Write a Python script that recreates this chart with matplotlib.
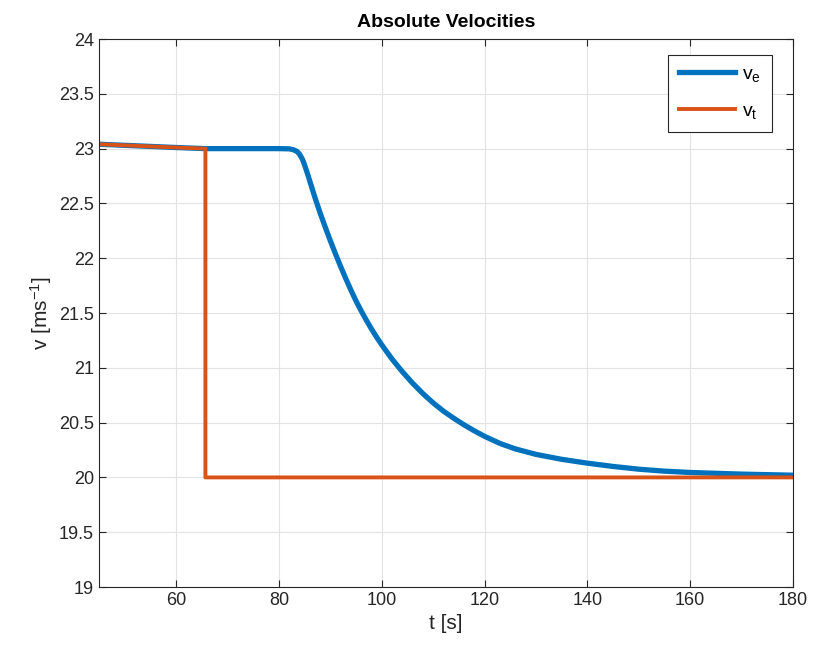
import matplotlib
matplotlib.use("Agg")
import matplotlib.pyplot as plt

plt.rcParams['font.family'] = ['Liberation Sans', 'DejaVu Sans']
plt.rcParams['mathtext.default'] = 'regular'

# values
t_e = [45, 50, 55, 60, 65.7, 70, 75, 80, 82, 82.8, 83.5, 84, 84.6, 85, 85.5,
       86, 86.5, 87, 88, 89, 90, 91, 92, 93, 94, 95, 96, 97, 98, 99, 100,
       102, 104, 106, 108, 110, 112, 114, 116, 118, 120, 123, 126, 130, 135,
       140, 145, 150, 155, 160, 170, 180]
v_e = [23.04, 23.03, 23.02, 23.01, 23.0, 23.0, 23.0, 23.0, 22.998, 22.99,
       22.975, 22.95, 22.90, 22.85, 22.78, 22.705, 22.63, 22.555, 22.415,
       22.285, 22.16, 22.04, 21.925, 21.815, 21.71, 21.61, 21.52, 21.435,
       21.355, 21.28, 21.21, 21.08, 20.965, 20.86, 20.765, 20.68, 20.605,
       20.54, 20.48, 20.425, 20.375, 20.31, 20.26, 20.21, 20.165, 20.13,
       20.10, 20.075, 20.057, 20.045, 20.03, 20.02]

t_t = [45, 50, 55, 60, 65.7, 65.7, 180]
v_t = [23.04, 23.03, 23.02, 23.01, 23.0, 20.0, 20.0]

fig = plt.figure(figsize=(8.14, 6.58), dpi=100)
ax = fig.add_axes([0.1216, 0.1079, 0.8526, 0.8328])

ax.plot(t_e, v_e, color='#0072BD', lw=3.8, label=r'v$_e$', solid_joinstyle='round')
ax.plot(t_t, v_t, color='#D95319', lw=2.8, label=r'v$_t$')

ax.set_xlim(45, 180)
ax.set_ylim(19, 24)
ax.set_xticks([60, 80, 100, 120, 140, 160, 180])
ax.set_yticks([19, 19.5, 20, 20.5, 21, 21.5, 22, 22.5, 23, 23.5, 24])
ax.set_yticklabels(['19', '19.5', '20', '20.5', '21', '21.5', '22', '22.5', '23', '23.5', '24'])

ax.grid(True, color='#e3e3e3', lw=0.8)
ax.set_axisbelow(True)
ax.tick_params(direction='in', top=True, right=True, labelsize=13,
               colors='#262626', length=5)
for s in ax.spines.values():
    s.set_color('#262626')
    s.set_linewidth(0.8)

ax.set_title('Absolute Velocities', fontsize=14, fontweight='bold', pad=9)
ax.set_xlabel('t [s]', fontsize=15, color='#262626')
ax.set_ylabel(r'v [ms$^{-1}$]', fontsize=15, color='#262626')

leg = ax.legend(loc='upper right', bbox_to_anchor=(0.978, 0.982), fontsize=14,
                fancybox=False, edgecolor='#262626', framealpha=1,
                handlelength=2.9, handletextpad=0.35, borderpad=0.55,
                labelspacing=0.95, borderaxespad=0.3)
leg.get_frame().set_linewidth(0.8)

fig.savefig('out.png', dpi=100)
